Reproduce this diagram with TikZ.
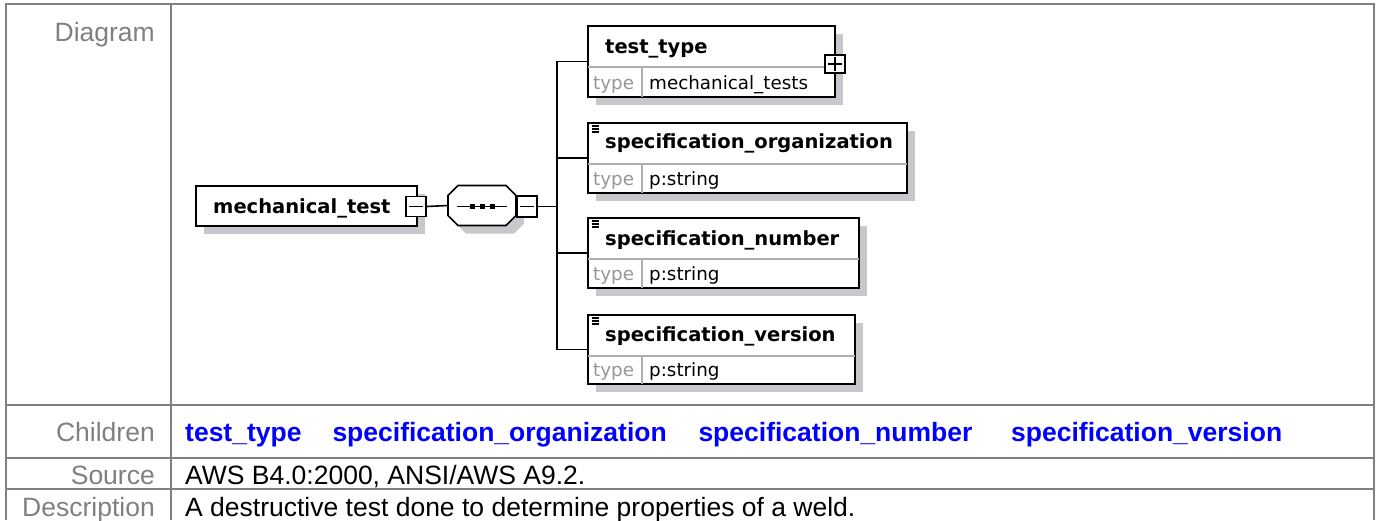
\documentclass[tikz,border=0pt]{standalone}
\usepackage{fontspec}
\setmainfont{Liberation Sans}
\newfontfamily\dvs{DejaVu Sans}
\usetikzlibrary{shadows}
\definecolor{tblgray}{RGB}{128,128,128}
\definecolor{shadowc}{RGB}{200,200,204}
\definecolor{linkblue}{RGB}{0,0,255}
\definecolor{divgray}{RGB}{175,175,175}
\definecolor{typegray}{RGB}{150,150,150}
\tikzset{
  tblline/.style={draw=tblgray, line width=2pt},
  lbl/.style={font=\fontsize{26.5}{30}\selectfont, text=tblgray, inner sep=0pt, anchor=base east},
  link/.style={font=\fontsize{26.5}{30}\selectfont\bfseries, text=linkblue, inner sep=0pt, anchor=base west},
  val/.style={font=\fontsize{26.5}{30}\selectfont, text=black, inner sep=0pt, anchor=base west},
  ebox/.style={draw=black, line width=1.6pt, fill=white, rectangle, inner sep=0pt,
    drop shadow={shadow xshift=8pt, shadow yshift=-8pt, fill=shadowc, opacity=1}},
  ename/.style={font=\dvs\bfseries\fontsize{19.5}{22}\selectfont, inner sep=0pt, anchor=base west},
  tlabel/.style={font=\dvs\fontsize{18.3}{21}\selectfont, text=typegray, inner sep=0pt, anchor=base west},
  tval/.style={font=\dvs\fontsize{18.3}{21}\selectfont, text=black, inner sep=0pt, anchor=base west},
  div/.style={draw=divgray, line width=1.2pt},
  conn/.style={draw=black, line width=1.6pt},
  sbox/.style={draw=black, line width=1.4pt, fill=white, rectangle, inner sep=0pt},
  sign/.style={draw=black, line width=1.2pt},
  icon/.style={draw=black, line width=1.3pt}
}
\begin{document}
\begin{tikzpicture}[x=1pt,y=-1pt]
\useasboundingbox (0,0) rectangle (1379,520);
% table grid
\draw[tblline] (6,520) -- (6,4) -- (1374,4) -- (1374,520);
\draw[tblline] (171,4) -- (171,520);
\draw[tblline] (6,405) -- (1374,405);
\draw[tblline] (6,458) -- (1374,458);
\draw[tblline] (6,489) -- (1374,489);
% row labels
\node[lbl] (lDiagram) at (155,41.7) {Diagram};
\node[lbl] (lChildren) at (155,441.7) {Children};
\node[lbl] (lSource) at (155,484) {Source};
\node[lbl] (lDesc) at (155,516) {Description};
% children links
\node[link] (c1) at (185,441.7) {test\_type};
\node[link] (c2) at (332.3,441.7) {specification\_organization};
\node[link] (c3) at (698.3,441.7) {specification\_number};
\node[link] (c4) at (1011,441.7) {specification\_version};
% source / description
\node[val] (src) at (185,484) {AWS B4.0:2000, ANSI/AWS A9.2.};
\node[val] (dsc) at (185,516) {A destructive test done to determine properties of a weld.};

% root element
\node[ebox, minimum width=221pt, minimum height=40pt] (mt) at (306.5,206) {};
\node[ename] (mtname) at (213,213) {mechanical\_test};
\node[sbox, minimum width=20pt, minimum height=20pt] (m1) at (416,206.5) {};
\draw[sign] (409,206.5) -- (423,206.5);

% sequence compositor
\fill[shadowc] (456,203.5) -- (466,193.5) -- (514,193.5) -- (524,203.5) -- (524,223.5) -- (514,233.5) -- (466,233.5) -- (456,223.5) -- cycle;
\filldraw[fill=white, draw=black, line width=1.6pt] (448,195.5) -- (458,185.5) -- (506,185.5) -- (516,195.5) -- (516,215.5) -- (506,225.5) -- (458,225.5) -- (448,215.5) -- cycle;
\node[minimum width=68pt, minimum height=40pt, inner sep=0pt] (comp) at (482,205.5) {};
\draw[line width=1.4pt] (457,206.5) -- (507,206.5);
\fill (469.5,204) rectangle (474.5,209);
\fill (479.5,204) rectangle (484.5,209);
\fill (489.5,204) rectangle (494.5,209);
\node[sbox, minimum width=20pt, minimum height=21pt] (m2) at (527,206.5) {};
\draw[sign] (520,206.5) -- (534,206.5);

% bus
\coordinate (bus) at (557,206.5);

% child: test_type
\node[ebox, minimum width=247pt, minimum height=71pt] (tt) at (711.5,61.5) {};
\draw[div] (588,67) -- (835,67);
\draw[div] (642,67) -- (642,97);
\node[ename] (ttname) at (605,53) {test\_type};
\node[tlabel] (tttl) at (593,89.3) {type};
\node[tval] (tttv) at (649,89.3) {mechanical\_tests};
\node[sbox, minimum width=20pt, minimum height=18pt] (p1) at (835,64) {};
\draw[sign] (828,64) -- (842,64);
\draw[sign] (835,57) -- (835,71);

% child: specification_organization
\node[ebox, minimum width=319pt, minimum height=70pt] (so) at (747.5,158) {};
\draw[div] (588,164) -- (907,164);
\draw[div] (642,164) -- (642,193);
\node[ename] (soname) at (605,148) {specification\_organization};
\node[tlabel] (sotl) at (593,185.3) {type};
\node[tval] (sotv) at (649,185.3) {p:string};
\draw[icon] (591.5,126) -- (598.5,126);
\draw[icon] (591.5,129) -- (598.5,129);
\draw[icon] (591.5,132) -- (598.5,132);

% child: specification_number
\node[ebox, minimum width=271pt, minimum height=70pt] (sn) at (723.5,253) {};
\draw[div] (588,259) -- (859,259);
\draw[div] (642,259) -- (642,288);
\node[ename] (snname) at (605,245) {specification\_number};
\node[tlabel] (sntl) at (593,280.5) {type};
\node[tval] (sntv) at (649,280.5) {p:string};
\draw[icon] (591.5,221) -- (598.5,221);
\draw[icon] (591.5,224) -- (598.5,224);
\draw[icon] (591.5,227) -- (598.5,227);

% child: specification_version
\node[ebox, minimum width=267pt, minimum height=69pt] (sv) at (721.5,349.5) {};
\draw[div] (588,356) -- (855,356);
\draw[div] (642,356) -- (642,384);
\node[ename] (svname) at (605,341.7) {specification\_version};
\node[tlabel] (svtl) at (593,376.8) {type};
\node[tval] (svtv) at (649,376.8) {p:string};
\draw[icon] (591.5,318) -- (598.5,318);
\draw[icon] (591.5,321) -- (598.5,321);
\draw[icon] (591.5,324) -- (598.5,324);

% connectors
\draw[conn] (m1.east) -- (comp.west);
\draw[conn] (m2.east) -- (bus);
\draw[conn] (tt.west) -| (bus);
\draw[conn] (so.west) -| (bus);
\draw[conn] (sn.west) -| (bus);
\draw[conn] (sv.west) -| (bus);
\end{tikzpicture}
\end{document}
